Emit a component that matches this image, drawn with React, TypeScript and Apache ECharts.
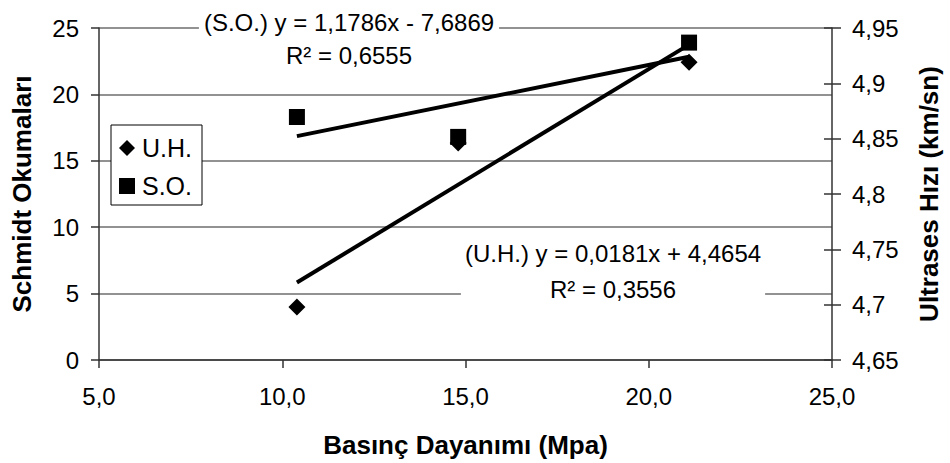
import React, { useEffect, useRef } from "react";
import * as echarts from "echarts";

const FONT = "'Liberation Sans', Arial, sans-serif";

// Basınç Dayanımı (Mpa) values of the three samples
const pressure = [10.4, 14.8, 21.1];
// Schmidt Okumaları (S.O.) - left axis
const soValues = [18.3, 16.8, 23.9];
// Ultrases Hızı (U.H.) - right axis
const uhValues = [4.698, 4.846, 4.919];
// trend line end points
const trendX = [10.4, 21.1];
const soTrend = [16.86, 22.83];
const uhTrend = [4.72, 4.935];

const seriesNames = ["U.H.", "S.O."];
const soEquation = "(S.O.) y = 1,1786x - 7,6869";
const soR2 = "R² = 0,6555";
const uhEquation = "(U.H.) y = 0,0181x + 4,4654";
const uhR2 = "R² = 0,3556";

const xTitle = "Basınç Dayanımı (Mpa)";
const leftTitle = "Schmidt Okumaları";
const rightTitle = "Ultrases Hızı (km/sn)";

const comma = (s: string) => s.replace(".", ",");

export default function App() {
  const ref = useRef<HTMLDivElement>(null);
  useEffect(() => {
    if (!ref.current) return;
    const chart = echarts.init(ref.current, undefined, { renderer: "svg" });
    const labelStyle = { fontFamily: FONT, fontSize: 24, color: "#000" };
    const titleStyle = { fontFamily: FONT, fontSize: 26, fontWeight: "bold" as const, color: "#000" };
    const rightAxisBase = {
      type: "value" as const,
      position: "right" as const,
      min: 4.65,
      max: 4.95,
      interval: 0.05,
      splitLine: { show: false },
    };
    chart.setOption({
      animation: false,
      backgroundColor: "#fff",
      grid: { left: 99, right: 113, top: 28, bottom: 102, containLabel: false },
      xAxis: {
        type: "value",
        min: 5,
        max: 25,
        interval: 5,
        name: xTitle,
        nameLocation: "middle",
        nameGap: 72,
        nameTextStyle: titleStyle,
        axisLine: { show: true, lineStyle: { color: "#333", width: 1.5 } },
        axisTick: { show: true, length: 8, lineStyle: { color: "#333", width: 1.5 } },
        axisLabel: { ...labelStyle, margin: 24, formatter: (v: number) => comma(v.toFixed(1)) },
        splitLine: { show: false },
      },
      yAxis: [
        {
          type: "value",
          position: "left",
          min: 0,
          max: 25,
          interval: 5,
          name: leftTitle,
          nameLocation: "middle",
          nameRotate: 90,
          nameGap: 64,
          nameTextStyle: titleStyle,
          axisLine: { show: true, lineStyle: { color: "#333", width: 1.5 } },
          axisTick: { show: true, length: 8, lineStyle: { color: "#333", width: 1.5 } },
          axisLabel: { ...labelStyle, margin: 20 },
          splitLine: { show: true, lineStyle: { color: "#6e6e6e", width: 1.5 } },
        },
        {
          ...rightAxisBase,
          name: rightTitle,
          nameLocation: "middle",
          nameRotate: 90,
          nameGap: 84,
          nameTextStyle: titleStyle,
          axisLine: { show: true, lineStyle: { color: "#333", width: 1.5 } },
          axisTick: { show: true, length: 9, lineStyle: { color: "#333", width: 1.5 } },
          axisLabel: {
            ...labelStyle,
            margin: 20,
            formatter: (v: number) => comma(String(parseFloat(v.toFixed(2)))),
          },
        },
        {
          ...rightAxisBase,
          axisLine: { show: false },
          axisTick: { show: true, inside: true, length: 8, lineStyle: { color: "#333", width: 1.5 } },
          axisLabel: { show: false },
        },
      ],
      legend: {
        orient: "vertical",
        left: 111,
        top: 125,
        padding: [9, 10, 5, 8],
        itemGap: 10,
        itemWidth: 16,
        itemHeight: 16,
        backgroundColor: "#fff",
        borderColor: "#000",
        borderWidth: 1,
        borderRadius: 0,
        textStyle: { ...labelStyle, fontSize: 25, lineHeight: 28, padding: [0, 0, 0, 2] },
        itemStyle: { opacity: 1 },
        data: [
          { name: seriesNames[0], icon: "diamond" },
          { name: seriesNames[1], icon: "rect" },
        ],
      },
      series: [
        {
          name: "S.O. trend",
          type: "line",
          yAxisIndex: 0,
          data: trendX.map((x, i) => [x, soTrend[i]]),
          symbol: "none",
          lineStyle: { color: "#000", width: 4 },
          silent: true,
        },
        {
          name: "U.H. trend",
          type: "line",
          yAxisIndex: 1,
          data: trendX.map((x, i) => [x, uhTrend[i]]),
          symbol: "none",
          lineStyle: { color: "#000", width: 4 },
          silent: true,
        },
        {
          name: seriesNames[0],
          type: "scatter",
          yAxisIndex: 1,
          symbol: "diamond",
          symbolSize: 17,
          itemStyle: { color: "#000", opacity: 1 },
          data: pressure.map((x, i) => [x, uhValues[i]]),
        },
        {
          name: seriesNames[1],
          type: "scatter",
          yAxisIndex: 0,
          symbol: "rect",
          symbolSize: 16,
          itemStyle: { color: "#000", opacity: 1 },
          data: pressure.map((x, i) => [x, soValues[i]]),
        },
      ],
      graphic: [
        {
          type: "text",
          x: 349,
          y: 6,
          z: 100,
          style: {
            text: soEquation + "\n" + soR2,
            fontFamily: FONT,
            fontSize: 24,
            fill: "#000",
            align: "center",
            verticalAlign: "top",
            lineHeight: 33,
            backgroundColor: "#fff",
            padding: [0, 5, 0, 5],
          },
        },
        {
          type: "text",
          x: 613,
          y: 235,
          z: 100,
          style: {
            text: uhEquation + "\n" + uhR2,
            fontFamily: FONT,
            fontSize: 24,
            fill: "#000",
            align: "center",
            verticalAlign: "top",
            lineHeight: 36,
            backgroundColor: "#fff",
            padding: [0, 4, 0, 4],
          },
        },
      ],
    });
    return () => chart.dispose();
  }, []);
  return (
    <div
      ref={ref}
      style={{ position: "absolute", left: 0, top: 0, width: 950, height: 463 }}
    />
  );
}
